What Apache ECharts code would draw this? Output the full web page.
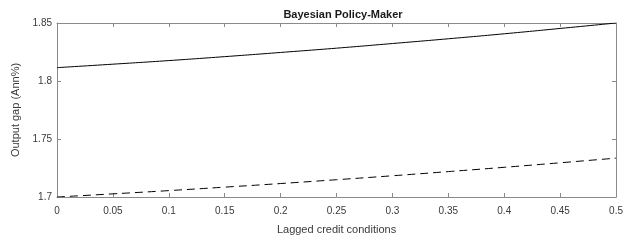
<!DOCTYPE html>
<html>
<head>
<meta charset="utf-8">
<script src="https://cdn.jsdelivr.net/npm/echarts@6/dist/echarts.min.js"></script>
<style>
  html, body { margin: 0; padding: 0; background: #fff; }
  #chart { width: 626px; height: 240px; }
</style>
</head>
<body>
<div id="chart"></div>
<script>
// lagged credit conditions (x values)
const creditLag = [0, 0.05, 0.1, 0.15, 0.2, 0.25, 0.3, 0.35, 0.4, 0.45, 0.5];
// output gap, solid line
const gapSolid = [1.8115, 1.8145, 1.8176, 1.8210, 1.8246, 1.8283, 1.8323, 1.8364, 1.8407, 1.8453, 1.8500];
// output gap, dashed line
const gapDashed = [1.7000, 1.7027, 1.7055, 1.7085, 1.7116, 1.7149, 1.7183, 1.7219, 1.7256, 1.7295, 1.7335];
// tick labels
const xTickLabels = ['0', '0.05', '0.1', '0.15', '0.2', '0.25', '0.3', '0.35', '0.4', '0.45', '0.5'];
const yTickLabels = ['1.7', '1.75', '1.8', '1.85'];

const font = '"Liberation Sans", Arial, sans-serif';
const axisGrey = '#8a8a8a';
const textCol = '#3a3a3a';

const chart = echarts.init(document.getElementById('chart'));

// 刻度朝内，四边都画框线（MATLAB 风格）
function frameAxis(extra) {
    return Object.assign({
        type: 'value',
        axisLine: { show: true, onZero: false, lineStyle: { color: axisGrey, width: 1 } },
        axisTick: { show: true, inside: true, length: 4, lineStyle: { color: axisGrey } },
        splitLine: { show: false },
        axisLabel: { show: false }
    }, extra);
}

const xFmt = v => xTickLabels[Math.round(v / 0.05)];
const yFmt = v => yTickLabels[Math.round((v - 1.7) / 0.05)];

chart.setOption({
    animation: false,
    title: {
        text: 'Bayesian Policy-Maker',
        left: 338,
        textAlign: 'center',
        top: 4,
        textStyle: { fontFamily: font, fontSize: 11, fontWeight: 'bold', color: '#1a1a1a' }
    },
    grid: { left: 57, right: 7, top: 23, bottom: 42 },
    xAxis: [
        frameAxis({
            position: 'bottom', min: 0, max: 0.5, interval: 0.05,
            name: 'Lagged credit conditions', nameLocation: 'middle', nameGap: 27,
            nameTextStyle: { fontFamily: font, fontSize: 11, color: textCol },
            axisLabel: { show: true, formatter: xFmt, margin: 9, fontFamily: font, fontSize: 10, color: textCol }
        }),
        frameAxis({ position: 'top', min: 0, max: 0.5, interval: 0.05 })
    ],
    yAxis: [
        frameAxis({
            position: 'left', min: 1.7, max: 1.85, interval: 0.05,
            name: 'Output gap (Ann%)', nameLocation: 'middle', nameGap: 33,
            nameTextStyle: { fontFamily: font, fontSize: 11, color: textCol },
            axisLabel: { show: true, formatter: yFmt, margin: 5, fontFamily: font, fontSize: 10, color: textCol }
        }),
        frameAxis({ position: 'right', min: 1.7, max: 1.85, interval: 0.05 })
    ],
    series: [
        {
            type: 'line',
            data: creditLag.map((x, i) => [x, gapSolid[i]]),
            smooth: true,
            symbol: 'none',
            lineStyle: { color: '#000', width: 1 }
        },
        {
            type: 'line',
            data: creditLag.map((x, i) => [x, gapDashed[i]]),
            smooth: true,
            symbol: 'none',
            lineStyle: { color: '#000', width: 1, type: [8, 5] }
        }
    ]
});
</script>
</body>
</html>
